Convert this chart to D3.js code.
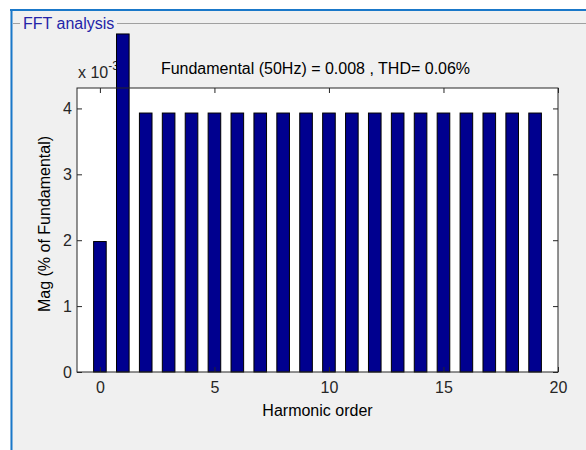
<!DOCTYPE html>
<html>
<head>
<meta charset="utf-8">
<script src="https://cdn.jsdelivr.net/npm/d3@7"></script>
<style>
  html, body { margin: 0; padding: 0; background: #ffffff; }
  svg { display: block; font-family: "Liberation Sans", Arial, sans-serif; }
</style>
</head>
<body>
<svg id="chart" width="586" height="450"></svg>
<script>
// Harmonic spectrum (magnitudes in units of 1e-3, % of fundamental)
const harmonics = d3.range(0, 20);
const magnitudes = [1.98, 5.13, 3.93, 3.93, 3.93, 3.93, 3.93, 3.93, 3.93, 3.93,
                    3.93, 3.93, 3.93, 3.93, 3.93, 3.93, 3.93, 3.93, 3.93, 3.93];
const xTicks = [0, 5, 10, 15, 20];
const yTicks = [0, 1, 2, 3, 4];
const panelTitle = "FFT analysis";
const chartTitle = "Fundamental (50Hz) = 0.008 , THD= 0.06%";
const xLabel = "Harmonic order";
const yLabel = "Mag (% of Fundamental)";

const svg = d3.select("#chart");

// Panel: grey background with a blue frame and an etched title line
svg.append("rect").attr("x", 10).attr("y", 9).attr("width", 576).attr("height", 441)
  .attr("fill", "#f0f0f0");
svg.append("line").attr("x1", 10).attr("x2", 586).attr("y1", 10).attr("y2", 10)
  .attr("stroke", "#1a78c9").attr("stroke-width", 2);
svg.append("line").attr("x1", 11.5).attr("x2", 11.5).attr("y1", 9).attr("y2", 450)
  .attr("stroke", "#1a78c9").attr("stroke-width", 2);
svg.append("line").attr("x1", 13).attr("x2", 20).attr("y1", 23.5).attr("y2", 23.5)
  .attr("stroke", "#a0a0a0");
svg.append("line").attr("x1", 117).attr("x2", 586).attr("y1", 23.5).attr("y2", 23.5)
  .attr("stroke", "#a0a0a0");
svg.append("text").attr("x", 23).attr("y", 29).attr("font-size", 16)
  .attr("fill", "#2424a8").text(panelTitle);

// Axes geometry
const plotL = 77, plotR = 558, plotT = 88, plotB = 372;
const x = d3.scaleLinear().domain([-1, 20]).range([plotL, plotR]);
const y = d3.scaleLinear().domain([0, 4.31]).range([plotB, plotT]);
const barW = x(0.55) - x(0);
const axisColor = "#262626";

svg.append("rect").attr("x", plotL).attr("y", plotT)
  .attr("width", plotR - plotL).attr("height", plotB - plotT).attr("fill", "#ffffff");

// Exponent label (sits behind the tall bar)
const expo = svg.append("text").attr("x", 78).attr("y", 78).attr("font-size", 16)
  .attr("fill", axisColor);
expo.append("tspan").text("x 10");
expo.append("tspan").attr("dy", -8).attr("font-size", 12).text("-3");

// Bars (not clipped to the axes box)
svg.append("g").selectAll("rect").data(harmonics).join("rect")
  .attr("x", d => x(d) - barW / 2)
  .attr("y", (d, i) => y(magnitudes[i]))
  .attr("width", barW)
  .attr("height", (d, i) => y(0) - y(magnitudes[i]))
  .attr("fill", "#00008f")
  .attr("stroke", "#000000")
  .attr("stroke-width", 1);

// Axes with inward ticks on all four sides
const styleAxis = g => {
  g.select(".domain").remove();
  g.selectAll(".tick line").attr("stroke", axisColor);
  g.selectAll(".tick text").attr("fill", axisColor).attr("font-size", 16)
    .attr("font-family", "Liberation Sans, Arial, sans-serif");
};
svg.append("g").attr("transform", `translate(0,${plotB})`)
  .call(d3.axisBottom(x).tickValues(xTicks).tickFormat(d3.format("d"))
    .tickSizeInner(-5).tickSizeOuter(0).tickPadding(10))
  .call(styleAxis);
svg.append("g").attr("transform", `translate(0,${plotT})`)
  .call(d3.axisTop(x).tickValues(xTicks).tickSizeInner(-5).tickSizeOuter(0).tickFormat(""))
  .call(styleAxis);
svg.append("g").attr("transform", `translate(${plotL},0)`)
  .call(d3.axisLeft(y).tickValues(yTicks).tickFormat(d3.format("d"))
    .tickSizeInner(-5).tickSizeOuter(0).tickPadding(5))
  .call(styleAxis);
svg.append("g").attr("transform", `translate(${plotR},0)`)
  .call(d3.axisRight(y).tickValues(yTicks).tickSizeInner(-5).tickSizeOuter(0).tickFormat(""))
  .call(styleAxis);
svg.append("rect").attr("x", plotL).attr("y", plotT)
  .attr("width", plotR - plotL).attr("height", plotB - plotT)
  .attr("fill", "none").attr("stroke", axisColor).attr("stroke-width", 1);

// Title and axis labels
svg.append("text").attr("x", 315.5).attr("y", 73.5).attr("text-anchor", "middle")
  .attr("font-size", 16).attr("fill", "#000000").text(chartTitle);
svg.append("text").attr("x", (plotL + plotR) / 2).attr("y", 416).attr("text-anchor", "middle")
  .attr("font-size", 16).attr("fill", "#000000").text(xLabel);
svg.append("text").attr("transform", `translate(50,${(plotT + plotB) / 2 - 6}) rotate(-90)`)
  .attr("text-anchor", "middle").attr("font-size", 16).attr("fill", "#000000").text(yLabel);
</script>
</body>
</html>
